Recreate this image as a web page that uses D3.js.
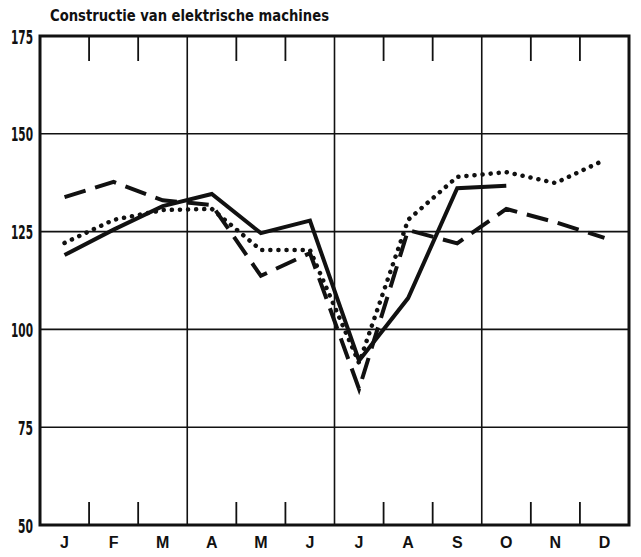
<!DOCTYPE html>
<html>
<head>
<meta charset="utf-8">
<script src="https://cdn.jsdelivr.net/npm/d3@7"></script>
<style>
  body { margin: 0; background: #fff; }
  text { font-family: 'Liberation Sans Narrow', 'DejaVu Sans Condensed', 'Liberation Sans', sans-serif; font-weight: bold; fill: #111; }
</style>
</head>
<body>
<svg id="chart" width="641" height="557"></svg>
<script>
const months = ['J', 'F', 'M', 'A', 'M', 'J', 'J', 'A', 'S', 'O', 'N', 'D']
const yTicks = [50, 75, 100, 125, 150, 175]

// solid line stops at October
const solidValues = [119, 125.5, 131.5, 134.6, 124.6, 127.8, 92, 108, 136.1, 136.7]
const dashedValues = [133.8, 137.7, 133, 131.8, 113.7, 119.5, 84.8, 125.4, 122, 130.8, 127.4, 123.4]
const dottedValues = [122.1, 128, 130.5, 130.8, 120.3, 120.3, 91.4, 128, 139, 140.2, 137.4, 143.3]

const svg = d3.select('#chart')
const plotLeft = 40
const plotRight = 629
const plotTop = 36
const plotBottom = 525

const x = d3.scaleBand()
  .domain(d3.range(12))
  .range([plotLeft, plotRight])
  .padding(0)

const y = d3.scaleLinear()
  .domain([50, 175])
  .range([plotBottom, plotTop])

const mid = i => x(i) + x.bandwidth() / 2

// title
svg.append('text')
  .attr('x', 50)
  .attr('y', 21)
  .attr('font-size', 15)
  .attr('textLength', 279)
  .attr('lengthAdjust', 'spacingAndGlyphs')
  .text('Constructie van elektrische machines')

// horizontal grid lines
svg.append('g')
  .selectAll('line')
  .data(yTicks.slice(1, -1))
  .enter()
  .append('line')
  .attr('x1', plotLeft)
  .attr('x2', plotRight)
  .attr('y1', d => y(d))
  .attr('y2', d => y(d))
  .attr('stroke', '#111')
  .attr('stroke-width', 1.6)

// vertical quarter lines and month ticks
const bounds = d3.range(1, 12)
svg.append('g')
  .selectAll('line')
  .data(bounds.filter(i => i % 3 === 0))
  .enter()
  .append('line')
  .attr('x1', d => x(d))
  .attr('x2', d => x(d))
  .attr('y1', plotTop)
  .attr('y2', plotBottom)
  .attr('stroke', '#111')
  .attr('stroke-width', 1.6)

const minor = bounds.filter(i => i % 3 !== 0)
svg.append('g')
  .selectAll('line')
  .data(minor)
  .enter()
  .append('line')
  .attr('x1', d => x(d))
  .attr('x2', d => x(d))
  .attr('y1', plotTop)
  .attr('y2', plotTop + 25)
  .attr('stroke', '#111')
  .attr('stroke-width', 1.8)
svg.append('g')
  .selectAll('line')
  .data(minor)
  .enter()
  .append('line')
  .attr('x1', d => x(d))
  .attr('x2', d => x(d))
  .attr('y1', plotBottom - 23)
  .attr('y2', plotBottom)
  .attr('stroke', '#111')
  .attr('stroke-width', 1.8)

// frame
svg.append('rect')
  .attr('x', plotLeft)
  .attr('y', plotTop)
  .attr('width', plotRight - plotLeft)
  .attr('height', plotBottom - plotTop)
  .attr('fill', 'none')
  .attr('stroke', '#111')
  .attr('stroke-width', 3)

// y labels
const yAxis = svg.append('g')
  .attr('transform', `translate(${plotLeft - 7},0)`)
  .call(d3.axisLeft(y).tickValues(yTicks).tickSize(0).tickFormat(d3.format('d')))
yAxis.select('.domain').remove()
yAxis.selectAll('text')
  .attr('x', 0)
  .attr('font-size', 20)
  .attr('dy', '0.35em')
  .attr('textLength', d => d >= 100 ? 22 : 15)
  .attr('lengthAdjust', 'spacingAndGlyphs')
  .style('font-family', "'Liberation Sans Narrow', 'DejaVu Sans Condensed', sans-serif")
  .style('font-weight', 'bold')
  .attr('fill', '#111')

// month labels
const xAxis = svg.append('g')
  .attr('transform', `translate(0,${plotBottom + 9})`)
  .call(d3.axisBottom(x).tickSize(0).tickFormat(i => months[i]))
xAxis.select('.domain').remove()
xAxis.selectAll('text')
  .attr('font-size', 16)
  .attr('dy', '0.71em')
  .style('font-family', "'Liberation Sans', 'DejaVu Sans', sans-serif")
  .style('font-weight', 'bold')
  .attr('fill', '#111')

const line = d3.line()
  .x((d, i) => mid(i))
  .y(d => y(d))

svg.append('path')
  .datum(dottedValues)
  .attr('d', line)
  .attr('fill', 'none')
  .attr('stroke', '#111')
  .attr('stroke-width', 4.5)
  .attr('stroke-linecap', 'round')
  .attr('stroke-dasharray', '0.1 8')

svg.append('path')
  .datum(dashedValues)
  .attr('d', line)
  .attr('fill', 'none')
  .attr('stroke', '#111')
  .attr('stroke-width', 4)
  .attr('stroke-dasharray', '22 10')

svg.append('path')
  .datum(solidValues)
  .attr('d', line)
  .attr('fill', 'none')
  .attr('stroke', '#111')
  .attr('stroke-width', 4)
  .attr('stroke-linejoin', 'miter')
</script>
</body>
</html>
